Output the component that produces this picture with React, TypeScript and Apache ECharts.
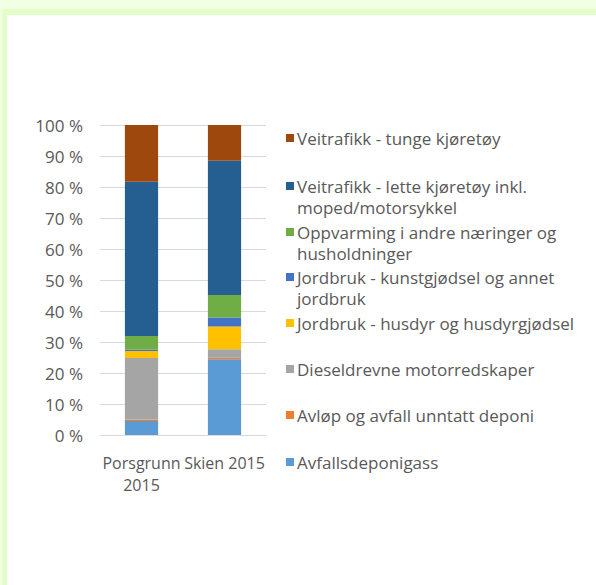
import React, { useEffect, useRef } from "react";
import * as echarts from "echarts";

const categories = ["Porsgrunn 2015", "Skien 2015"];
const seriesNames = [
  "Avfallsdeponigass",
  "Avløp og avfall unntatt deponi",
  "Dieseldrevne motorredskaper",
  "Jordbruk - husdyr og husdyrgjødsel",
  "Jordbruk - kunstgjødsel og annet jordbruk",
  "Oppvarming i andre næringer og husholdninger",
  "Veitrafikk - lette kjøretøy inkl. moped/motorsykkel",
  "Veitrafikk - tunge kjøretøy",
];
const legendLabels = [
  "Avfallsdeponigass",
  "Avløp og avfall unntatt deponi",
  "Dieseldrevne motorredskaper",
  "Jordbruk - husdyr og husdyrgjødsel",
  "Jordbruk - kunstgjødsel og annet\njordbruk",
  "Oppvarming i andre næringer og\nhusholdninger",
  "Veitrafikk - lette kjøretøy inkl.\nmoped/motorsykkel",
  "Veitrafikk - tunge kjøretøy",
];
const porsgrunn = [4.5, 0.5, 19.8, 2.3, 0.5, 4.3, 49.8, 18.3];
const skien = [24.4, 0.5, 2.8, 7.3, 2.9, 7.3, 43.3, 11.5];
const colors = ["#5B9BD5", "#ED7D31", "#A5A5A5", "#FFC000", "#4472C4", "#70AD47", "#255E91", "#9E480E"];
const yTicks = { min: 0, max: 100, interval: 10 };

const FONT = "'Open Sans', sans-serif";
const TEXT_COLOR = "#595959";

export default function App() {
  const ref = useRef<HTMLDivElement>(null);
  useEffect(() => {
    if (!ref.current) return;
    const chart = echarts.init(ref.current, null, { renderer: "svg" });
    // legend item first-line centre y positions (top item = last series)
    const legendY = [462, 415, 369, 323, 277, 232, 186, 138];
    const legendGraphics: any[] = [];
    seriesNames.forEach((_, i) => {
      const cy = legendY[i];
      legendGraphics.push({
        type: "rect",
        shape: { x: 286, y: cy - 4, width: 8, height: 8 },
        style: { fill: colors[i] },
        z: 10,
      });
      legendGraphics.push({
        type: "text",
        x: 297,
        y: cy - 10.5,
        style: {
          text: legendLabels[i],
          fill: TEXT_COLOR,
          font: `17px ${FONT}`,
          lineHeight: 21,
          verticalAlign: "top",
        },
        z: 10,
      });
    });
    chart.setOption({
      animation: false,
      backgroundColor: "#ffffff",
      color: colors,
      textStyle: { fontFamily: FONT },
      grid: { left: 100, right: 330, top: 125, bottom: 150, containLabel: false },
      xAxis: {
        type: "category",
        data: categories,
        axisLine: { show: true, lineStyle: { color: "#D9D9D9", width: 1 } },
        axisTick: { show: false },
        axisLabel: {
          color: TEXT_COLOR,
          fontSize: 16,
          fontFamily: FONT,
          lineHeight: 22,
          margin: 17,
          interval: 0,
          formatter: (v: string) => (v.length > 12 ? v.replace(" ", "\n") : v),
        },
      },
      yAxis: {
        type: "value",
        min: yTicks.min,
        max: yTicks.max,
        interval: yTicks.interval,
        axisLine: { show: false },
        axisTick: { show: false },
        splitLine: { lineStyle: { color: "#D9D9D9", width: 1 } },
        axisLabel: {
          color: TEXT_COLOR,
          fontSize: 17,
          fontFamily: FONT,
          margin: 17,
          formatter: "{value} %",
        },
      },
      series: seriesNames.map((name, i) => ({
        name,
        type: "bar",
        stack: "total",
        barWidth: "40%",
        data: [porsgrunn[i], skien[i]],
        itemStyle: { color: colors[i] },
      })),
      graphic: [
        {
          type: "rect",
          shape: { x: 0, y: 0, width: 596, height: 585 },
          style: { fill: "#F1FFE2" },
          z: -10,
          silent: true,
        },
        {
          type: "rect",
          shape: { x: 2.5, y: 9, width: 600, height: 600 },
          style: { fill: "#E2FEC6" },
          z: -9,
          silent: true,
        },
        {
          type: "rect",
          shape: { x: 7, y: 15, width: 600, height: 600 },
          style: { fill: "#FFFFFF" },
          z: -8,
          silent: true,
        },
        ...legendGraphics,
      ],
    });
    return () => chart.dispose();
  }, []);
  return (
    <div
      ref={ref}
      style={{ position: "fixed", left: 0, top: 0, width: 596, height: 585 }}
    />
  );
}
